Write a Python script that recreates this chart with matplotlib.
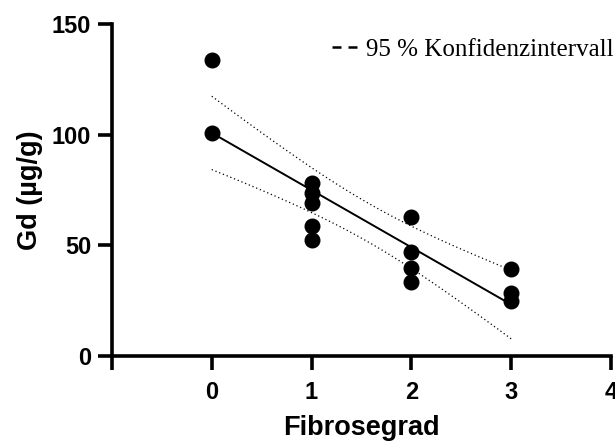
import numpy as np
import matplotlib
matplotlib.use("Agg")
import matplotlib.pyplot as plt
from matplotlib.lines import Line2D

# Data
grade = [0, 0, 1, 1, 1, 1, 1, 2, 2, 2, 2, 3, 3, 3]
gd = [133.7, 100.8, 78.2, 73.6, 69.0, 58.7, 52.4, 62.8, 47.0, 39.7, 33.4, 39.4, 28.5, 24.9]
x_ticks = [-1, 0, 1, 2, 3, 4]
x_tick_labels = ["", "0", "1", "2", "3", "4"]
y_ticks = [0, 50, 100, 150]
t_crit = 2.179  # t(0.975, df=12)

x = np.array(grade, dtype=float)
y = np.array(gd, dtype=float)
slope, intercept = np.polyfit(x, y, 1)
n = len(x)
resid = y - (slope * x + intercept)
s = np.sqrt(np.sum(resid**2) / (n - 2))
sxx = np.sum((x - x.mean())**2)
xf = np.linspace(0, 3, 100)
yf = slope * xf + intercept
se = s * np.sqrt(1 / n + (xf - x.mean())**2 / sxx)
upper = yf + t_crit * se
lower = yf - t_crit * se

fig = plt.figure(figsize=(6.15, 4.41), dpi=100)
ax = fig.add_axes([0.182, 0.193, 0.8115, 0.7526])

sans = "Liberation Sans"
ax.plot(xf, yf, color="black", lw=1.4, zorder=2)
ax.plot(xf, upper, color="black", lw=0.9, ls=(0, (1, 2.2)), zorder=2)
ax.plot(xf, lower, color="black", lw=0.9, ls=(0, (1, 2.2)), zorder=2)
ax.plot(x, y, "o", color="black", ms=10.5, zorder=3, clip_on=False)

ax.set_xlim(-1, 4)
ax.set_ylim(0, 150)
ax.set_xticks(x_ticks)
ax.set_xticklabels(x_tick_labels)
ax.set_yticks(y_ticks)
for sp in ["top", "right"]:
    ax.spines[sp].set_visible(False)
for sp in ["left", "bottom"]:
    ax.spines[sp].set_linewidth(2.6)
ax.tick_params(width=2.6, length=10, direction="out")
ax.tick_params(axis="x", pad=8)
ax.tick_params(axis="y", pad=5)
for lab in ax.get_xticklabels() + ax.get_yticklabels():
    lab.set_fontfamily(sans)
    lab.set_fontweight("bold")
    lab.set_fontsize(17)

ax.set_xlabel("Fibrosegrad", fontfamily=sans, fontweight="bold", fontsize=19.5, labelpad=8)
ax.set_ylabel("Gd (µg/g)", fontfamily=sans, fontweight="bold", fontsize=19.5, labelpad=6)

handle = Line2D([], [], color="black", lw=1.8, ls=(0, (3.6, 2.8)))
leg = ax.legend([handle], ["95 % Konfidenzintervall"], loc="upper right",
                bbox_to_anchor=(1.005, 0.957), frameon=False,
                prop={"family": "Liberation Serif", "size": 18},
                handlelength=1.08, handletextpad=0.28, borderaxespad=0,
                borderpad=0)

fig.savefig("out.png", dpi=100)
